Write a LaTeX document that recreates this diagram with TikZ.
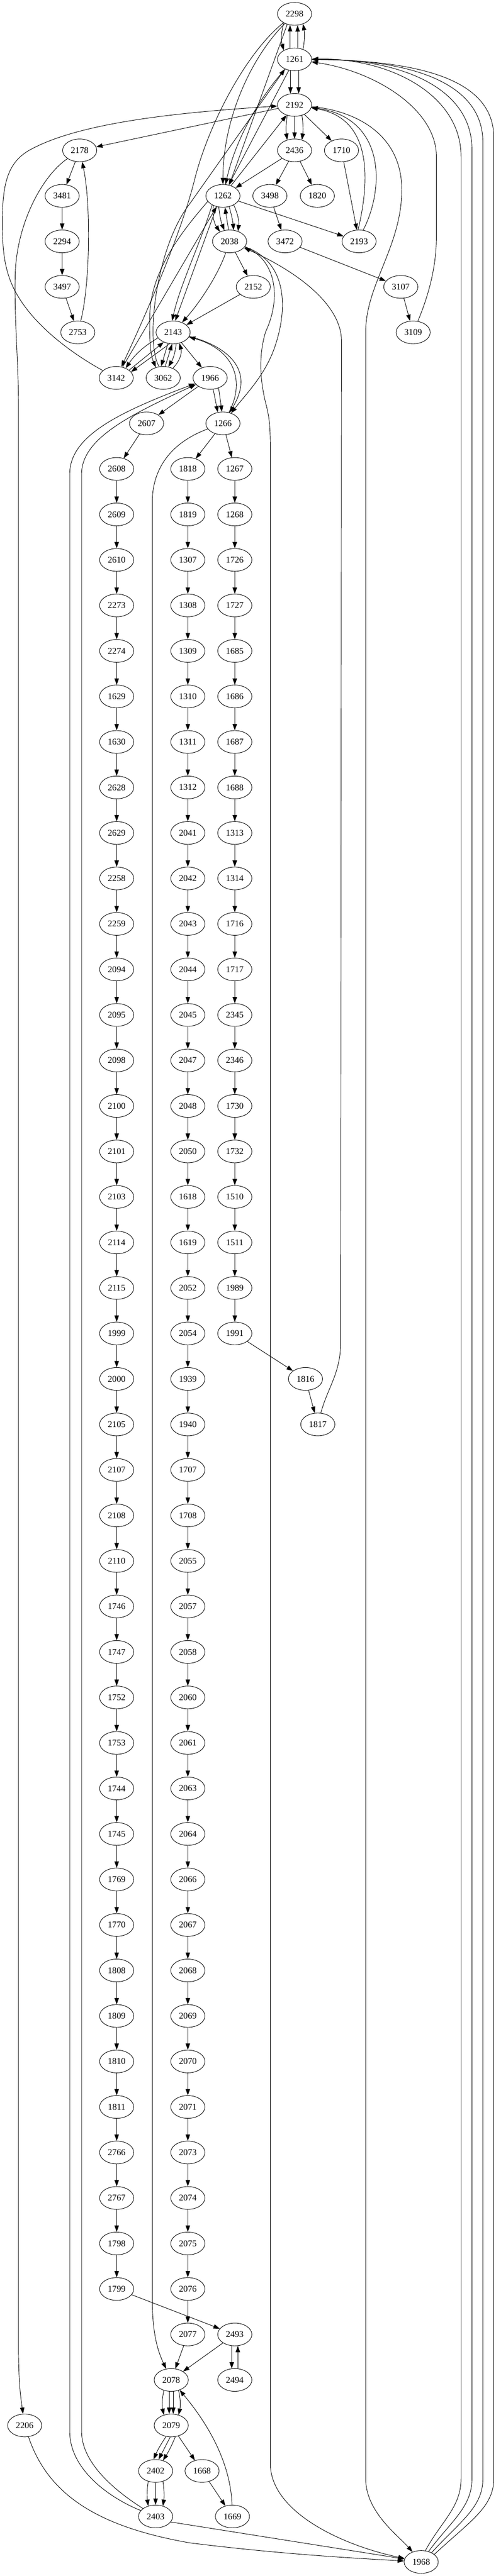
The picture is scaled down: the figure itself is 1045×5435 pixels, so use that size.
\documentclass[tikz,border=0pt]{standalone}
\usepackage{fontspec}
\setmainfont{Liberation Serif}
\usetikzlibrary{arrows.meta,shapes.geometric}
\begin{document}
\begin{tikzpicture}[x=0.75pt,y=-0.75pt,
  nd/.style={draw,ellipse,line width=0.75pt,minimum width=54pt,minimum height=36pt,inner sep=0pt,font=\fontsize{14}{16}\selectfont},
  edg/.style={line width=0.75pt,-{Triangle[length=10pt,width=7pt]}}]
\useasboundingbox (0,0) rectangle (1045,5435);
% ---------- top nodes ----------
\node[nd] (n2298) at (621,29.3) {2298};
\node[nd] (n1261) at (621,125.3) {1261};
\node[nd] (n2192) at (621,221.3) {2192};
\node[nd] (n2178) at (168,317.3) {2178};
\node[nd] (n2436) at (621,317.3) {2436};
\node[nd] (n1710) at (720,317.3) {1710};
\node[nd] (n3481) at (131,413.3) {3481};
\node[nd] (n1262) at (470,413.3) {1262};
\node[nd] (n3498) at (569,413.3) {3498};
\node[nd] (n1820) at (669,413.3) {1820};
\node[nd] (n2294) at (131,509.3) {2294};
\node[nd] (n2038) at (484,509.3) {2038};
\node[nd] (n3472) at (601,509.3) {3472};
\node[nd] (n2193) at (757,509.3) {2193};
\node[nd] (n3497) at (131,605.3) {3497};
\node[nd] (n2152) at (534,605.3) {2152};
\node[nd] (n3107) at (845,605.3) {3107};
\node[nd] (n2753) at (164,701.3) {2753};
\node[nd] (n2143) at (365,701.3) {2143};
\node[nd] (n3109) at (871,701.3) {3109};
\node[nd] (n3142) at (245,797.3) {3142};
\node[nd] (n3062) at (344,797.3) {3062};
\node[nd] (n1966) at (443,797.3) {1966};
\node[nd] (n2607) at (309,893.3) {2607};
\node[nd] (n1266) at (470,893.3) {1266};
% ---------- chains ----------
\foreach \lab [count=\i from 10, remember=\lab as \prev (initially 2607)] in
 {2608,2609,2610,2273,2274,1629,1630,2628,2629,2258,2259,2094,2095,2098,2100,2101,2103,2114,2115,1999,2000,2105,2107,2108,2110,1746,1747,1752,1753,1744,1745,1769,1770,1808,1809,1810,1811,2766,2767,1798,1799}
 {\node[nd] (n\lab) at (246,{29.33+96*\i}) {\lab};
  \draw[edg] (n\prev) -- (n\lab);}
\foreach \lab [count=\i from 10, remember=\lab as \prev (initially 1266)] in
 {1818,1819,1307,1308,1309,1310,1311,1312,2041,2042,2043,2044,2045,2047,2048,2050,1618,1619,2052,2054,1939,1940,1707,1708,2055,2057,2058,2060,2061,2063,2064,2066,2067,2068,2069,2070,2071,2073,2074,2075,2076,2077}
 {\node[nd] (n\lab) at (396,{29.33+96*\i}) {\lab};
  \draw[edg] (n\prev) -- (n\lab);}
\foreach \lab [count=\i from 10, remember=\lab as \prev (initially 1266)] in
 {1267,1268,1726,1727,1685,1686,1687,1688,1313,1314,1716,1717,2345,2346,1730,1732,1510,1511,1989,1991}
 {\node[nd] (n\lab) at (495,{29.33+96*\i}) {\lab};
  \draw[edg] (n\prev) -- (n\lab);}
\node[nd] (n1816) at (644,2909.3) {1816};
\node[nd] (n1817) at (670,3005.3) {1817};
% ---------- bottom nodes ----------
\node[nd] (n2493) at (495,4925.3) {2493};
\node[nd] (n2078) at (361,5021.3) {2078};
\node[nd] (n2494) at (495,5021.3) {2494};
\node[nd] (n2079) at (361,5117.3) {2079};
\node[nd] (n2206) at (52,5117.3) {2206};
\node[nd] (n2402) at (328,5213.3) {2402};
\node[nd] (n1668) at (426,5213.3) {1668};
\node[nd] (n2403) at (328,5309.3) {2403};
\node[nd] (n1669) at (490,5309.3) {1669};
\node[nd] (n1968) at (888,5405.3) {1968};
% ---------- top edges ----------
\draw[edg] (n2298.220) to[bend right=15] (n1261.140);
\draw[edg] (n1261.112) -- (n2298.248);
\draw[edg] (n1261.75) -- (n2298.285);
\draw[edg] (n1261.50) to[bend right=10] (n2298.310);
\draw[edg] (n2298) .. controls (530,120) and (470,250) .. (n1262);
\draw[edg] (n2298.235) -- (n1262.60);
\draw[edg] (n2298) .. controls (520,110) and (440,260) .. (410,380) .. controls (380,500) and (300,680) .. (n3142);
\draw[edg] (n1261) -- (n1262);
\draw[edg] (n1261) .. controls (560,190) and (500,280) .. (n1262);
\draw[edg] (n3062.110) .. controls (305,720) and (330,520) .. (400,430) -- (n1261.225);
\draw[edg] (n1261.250) -- (n2192.110);
\draw[edg] (n1261.290) -- (n2192.70);
\draw[edg] (n2192) -- (n2178);
\draw[edg] (n3142) .. controls (150,745) and (60,680) .. (25,600) .. controls (8,560) and (5,520) .. (5,470) .. controls (5,390) and (15,345) .. (60,318) .. controls (170,255) and (400,236) .. (n2192);
\draw[edg] (n2192.235) to[bend right=8] (n2436.125);
\draw[edg] (n2192.270) -- (n2436.90);
\draw[edg] (n2192.305) to[bend left=8] (n2436.55);
\draw[edg] (n2192) -- (n1710);
\draw[edg] (n1262) -- (n2192);
\draw[edg] (n2193.95) .. controls (780,380) and (785,250) .. (n2192);
\draw[edg] (n2193.70) .. controls (810,400) and (815,250) .. (n2192);
\draw[edg] (n2436) -- (n1262);
\draw[edg] (n2436) -- (n3498);
\draw[edg] (n2436) -- (n1820);
\draw[edg] (n1710) -- (n2193);
\draw[edg] (n1262) -- (n2193);
\draw[edg] (n3498) -- (n3472);
\draw[edg] (n3472) -- (n3107);
\draw[edg] (n3107) -- (n3109);
\draw[edg] (n3109) .. controls (905,620) and (920,560) .. (920,500) -- (920,330) .. controls (920,230) and (790,150) .. (n1261);
% left column
\draw[edg] (n2178) -- (n3481);
\draw[edg] (n3481) -- (n2294);
\draw[edg] (n2294) -- (n3497);
\draw[edg] (n3497) -- (n2753);
\draw[edg] (n2753) .. controls (190,600) and (192,430) .. (n2178);
\draw[edg] (n2178) .. controls (90,370) and (35,470) .. (32,580) .. controls (30,680) and (39,760) .. (39,860) -- (39,4950) .. controls (39,5030) and (44,5060) .. (n2206);
% 1262 / 2038
\draw[edg] (n1262.225) to[bend right=20] (n2038.135);
\draw[edg] (n1262.250) to[bend right=8] (n2038.115);
\draw[edg] (n2038.95) -- (n1262.280);
\draw[edg] (n1262.300) to[bend left=5] (n2038.70);
\draw[edg] (n1262.320) to[bend left=15] (n2038.50);
\draw[edg] (n2038) -- (n2152);
\draw[edg] (n2152) -- (n2143);
\draw[edg] (n2038) .. controls (460,580) and (420,640) .. (n2143);
\draw[edg] (n1262.240) -- (n2143.80);
\draw[edg] (n1262.220) .. controls (420,520) and (380,600) .. (n2143.95);
\draw[edg] (n3142) -- (n1262);
\draw[edg] (n1262.200) .. controls (400,470) and (320,560) .. (316,660) .. controls (314,720) and (318,750) .. (n3062.125);
% 2143 cluster
\draw[edg] (n2143.200) to[bend right=12] (n3142.46);
\draw[edg] (n3142.31) -- (n2143.226);
\draw[edg] (n2143.253) -- (n3142.22);
\draw[edg] (n2143.245) -- (n3062.100);
\draw[edg] (n3062.80) -- (n2143.265);
\draw[edg] (n2143.285) to[bend left=12] (n3062.65);
\draw[edg] (n3062.45) to[bend right=30] (n2143.300);
\draw[edg] (n2143) -- (n1966);
\draw[edg] (n2143) .. controls (460,725) and (545,770) .. (n1266);
\draw[edg] (n1266) .. controls (515,810) and (500,740) .. (n2143);
\draw[edg] (n1966.285) -- (n1266.115);
\draw[edg] (n1966.310) -- (n1266.95);
\draw[edg] (n1966) -- (n2607);
\draw[edg] (n2038) .. controls (600,550) and (610,640) .. (580,730) .. controls (560,790) and (520,830) .. (n1266);
% long lines
\draw[edg] (n2038) .. controls (580,545) and (595,625) .. (560,700) .. controls (545,750) and (548,800) .. (560,850) .. controls (568,880) and (570,900) .. (570,950) -- (570,5200) .. controls (572,5300) and (720,5370) .. (n1968);
\draw[edg] (n2192) .. controls (760,235) and (847,290) .. (847,400) .. controls (847,520) and (771,600) .. (771,700) -- (771,5230) .. controls (771,5300) and (840,5350) .. (n1968);
\draw[edg] (n1817) .. controls (690,2930) and (716,2900) .. (718,2840) -- (720,720) .. controls (720,640) and (620,570) .. (n2038);
\draw[edg] (n1968.70) .. controls (930,5320) and (972,5290) .. (972,5230) -- (972,330) .. controls (972,200) and (822,122) .. (n1261);
\draw[edg] (n1968.55) .. controls (950,5320) and (995,5290) .. (995,5230) -- (995,315) .. controls (995,185) and (845,124) .. (n1261);
\draw[edg] (n1968.42) .. controls (970,5320) and (1018,5290) .. (1018,5230) -- (1018,300) .. controls (1018,175) and (868,126) .. (n1261);
\draw[edg] (n1968.30) .. controls (990,5320) and (1041,5290) .. (1041,5230) -- (1041,290) .. controls (1041,170) and (891,128) .. (n1261);
\draw[edg] (n2403) .. controls (230,5270) and (147,5210) .. (147,5130) -- (147,1000) .. controls (147,920) and (250,870) .. (n1966);
\draw[edg] (n2403) .. controls (250,5260) and (172,5200) .. (172,5130) -- (172,1000) .. controls (172,925) and (275,875) .. (n1966);
\draw[edg] (n1266) .. controls (370,930) and (321,980) .. (321,1060) -- (321,4850) .. controls (321,4930) and (335,4965) .. (n2078);
% other chain joins
\draw[edg] (n1991) -- (n1816);
\draw[edg] (n1816) -- (n1817);
\draw[edg] (n1799) -- (n2493);
\draw[edg] (n2077) -- (n2078);
\draw[edg] (n2493) -- (n2078);
\draw[edg] (n2493.255) -- (n2494.105);
\draw[edg] (n2494.75) -- (n2493.285);
\draw[edg] (n2078.235) to[bend right=12] (n2079.125);
\draw[edg] (n2078.260) -- (n2079.100);
\draw[edg] (n2078.280) -- (n2079.80);
\draw[edg] (n2078.305) to[bend left=12] (n2079.55);
\draw[edg] (n2079.245) to[bend right=5] (n2402.100);
\draw[edg] (n2079.265) -- (n2402.75);
\draw[edg] (n2079.290) to[bend left=5] (n2402.55);
\draw[edg] (n2079) -- (n1668);
\draw[edg] (n1668) -- (n1669);
\draw[edg] (n1669) .. controls (487,5220) and (460,5140) .. (n2078);
\draw[edg] (n2402.235) to[bend right=8] (n2403.125);
\draw[edg] (n2402.270) -- (n2403.90);
\draw[edg] (n2402.305) to[bend left=8] (n2403.55);
\draw[edg] (n2403.340) -- (n1968.170);
\draw[edg] (n2206) .. controls (100,5260) and (200,5330) .. (400,5365) .. controls (600,5390) and (760,5398) .. (n1968);
\end{tikzpicture}
\end{document}
